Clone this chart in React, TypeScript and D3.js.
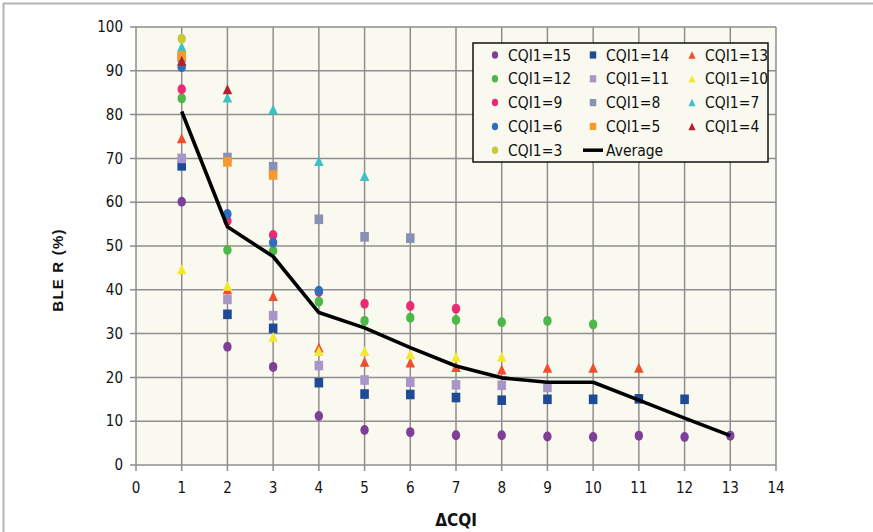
import { useEffect } from 'react'
import * as d3 from 'd3'

// ΔCQI positions, one point per series per ΔCQI (series CQI1=n run from 1 to n-2)
const deltaCqi = [1, 2, 3, 4, 5, 6, 7, 8, 9, 10, 11, 12, 13]

const cqi15 = [60.1, 27, 22.4, 11.2, 8, 7.5, 6.8, 6.8, 6.5, 6.4, 6.7, 6.4, 6.7]
const cqi14 = [68.3, 34.4, 31.2, 18.8, 16.2, 16.1, 15.4, 14.8, 15.0, 15.0, 15.1, 15.0]
const cqi13 = [74.6, 40.1, 38.6, 26.8, 23.6, 23.4, 22.4, 21.8, 22.2, 22.2, 22.2]
const cqi12 = [83.7, 49.1, 48.9, 37.3, 32.9, 33.6, 33.1, 32.6, 32.9, 32.1]
const cqi11 = [70, 37.8, 34.1, 22.7, 19.4, 18.9, 18.3, 18.2, 17.7]
const cqi10 = [44.7, 40.9, 29.3, 26, 26, 25.3, 24.7, 24.7]
const cqi9 = [85.8, 55.7, 52.5, 39.5, 36.8, 36.3, 35.7]
const cqi8 = [93, 70.2, 68.1, 56.1, 52.1, 51.8]
const cqi7 = [95.5, 83.9, 81.2, 69.4, 66]
const cqi6 = [90.8, 57.3, 50.8, 39.8]
const cqi5 = [93.4, 69.2, 66.2]
const cqi4 = [92.3, 85.8]
const cqi3 = [97.3]
const average = [80.7, 54.4, 47.6, 34.8, 31.3, 26.8, 22.6, 19.9, 18.9, 18.9, 14.8, 10.7, 6.7]

const xTicks = d3.range(0, 15)
const yTicks = d3.range(0, 101, 10)

type Shape = 'circle' | 'square' | 'triangle'

const series: { name: string; values: number[]; shape: Shape; color: string }[] = [
  { name: 'CQI1=15', values: cqi15, shape: 'circle', color: '#7f3f98' },
  { name: 'CQI1=14', values: cqi14, shape: 'square', color: '#1f4a96' },
  { name: 'CQI1=13', values: cqi13, shape: 'triangle', color: '#f04e2e' },
  { name: 'CQI1=12', values: cqi12, shape: 'circle', color: '#4cb848' },
  { name: 'CQI1=11', values: cqi11, shape: 'square', color: '#a896c8' },
  { name: 'CQI1=10', values: cqi10, shape: 'triangle', color: '#f2e82e' },
  { name: 'CQI1=9', values: cqi9, shape: 'circle', color: '#ec2a74' },
  { name: 'CQI1=8', values: cqi8, shape: 'square', color: '#8890b4' },
  { name: 'CQI1=7', values: cqi7, shape: 'triangle', color: '#3cc2c4' },
  { name: 'CQI1=6', values: cqi6, shape: 'circle', color: '#2f6ebe' },
  { name: 'CQI1=5', values: cqi5, shape: 'square', color: '#f7992c' },
  { name: 'CQI1=4', values: cqi4, shape: 'triangle', color: '#b41f2a' },
  { name: 'CQI1=3', values: cqi3, shape: 'circle', color: '#c8c83a' },
]

const W = 873
const H = 532
const m = { left: 136, right: 97, top: 27, bottom: 67 }
const tickFont = "'Liberation Sans Narrow', 'DejaVu Sans Condensed', sans-serif"

function Marker({ shape, x, y, color, s = 1 }: { shape: Shape; x: number; y: number; color: string; s?: number }) {
  if (shape === 'circle') return <ellipse cx={x} cy={y} rx={4.2 * s} ry={5 * s} fill={color} />
  if (shape === 'square') return <rect x={x - 4.3 * s} y={y - 4.8 * s} width={8.6 * s} height={9.6 * s} fill={color} />
  const h = 10 * s, w = 9.5 * s
  return <path d={`M${x},${y - h / 2}L${x + w / 2},${y + h / 2}L${x - w / 2},${y + h / 2}Z`} fill={color} />
}

export default function App() {
  useEffect(() => { document.body.style.margin = '0' }, [])

  const x = d3.scaleLinear().domain([0, 14]).range([m.left, W - m.right])
  const y = d3.scaleLinear().domain([0, 100]).range([H - m.bottom, m.top])
  const line = d3.line<number>().x((_, i) => x(deltaCqi[i])).y(d => y(d))

  const lx = 473, ly = 43, lw = 295, lh = 119
  const colX = [495, 593, 692]
  const rowY = (r: number) => 55 + r * 23.8

  return (
    <svg width={W} height={H} style={{ display: 'block', background: '#fff' }}>
      <line x1={3} x2={W} y1={3.5} y2={3.5} stroke="#b4b4b4" strokeWidth={2} />
      <line x1={3.5} x2={3.5} y1={3} y2={H} stroke="#b4b4b4" strokeWidth={2} />

      <rect x={x(0)} y={y(100)} width={x(14) - x(0)} height={y(0) - y(100)} fill="#faf9f0" />
      {yTicks.map(t => (
        <line key={'gy' + t} x1={x(0) - 6} x2={x(14)} y1={y(t)} y2={y(t)} stroke="#8e8e8e" strokeWidth={1.5} />
      ))}
      {xTicks.map(t => (
        <line key={'gx' + t} x1={x(t)} x2={x(t)} y1={y(100)} y2={y(0) + 6} stroke="#8e8e8e" strokeWidth={1.5} />
      ))}

      {yTicks.map(t => (
        <text key={'ty' + t} x={x(0) - 13} y={y(t)} dy="0.35em" textAnchor="end" fontFamily={tickFont} fontSize={15} fill="#111">{t}</text>
      ))}
      {xTicks.map(t => (
        <text key={'tx' + t} x={x(t)} y={y(0) + 28} textAnchor="middle" fontFamily={tickFont} fontSize={15} fill="#111">{t}</text>
      ))}

      <text transform={`translate(63,270) rotate(-90)`} textAnchor="middle" fontFamily="'Liberation Sans', Arial, sans-serif" fontWeight="bold" fontSize={15} letterSpacing={1.2} fill="#111">BLE R (%)</text>
      <text x={x(7)} y={526} textAnchor="middle" fontFamily={tickFont} fontWeight="bold" fontSize={17} fill="#111">ΔCQI</text>

      {series.map(s => (
        <g key={s.name}>
          {s.values.map((v, i) => (
            <Marker key={i} shape={s.shape} x={x(deltaCqi[i])} y={y(v)} color={s.color} />
          ))}
        </g>
      ))}

      <path d={line(average) ?? ''} fill="none" stroke="#000" strokeWidth={3.6} strokeLinejoin="round" />

      <rect x={lx} y={ly} width={lw} height={lh} fill="#faf9f0" stroke="#111" strokeWidth={1.5} />
      {series.map((s, i) => {
        const cx = colX[i % 3], cy = rowY(Math.floor(i / 3))
        return (
          <g key={'lg' + s.name}>
            <Marker shape={s.shape} x={cx} y={cy} color={s.color} s={0.75} />
            <text x={cx + 13} y={cy} dy="0.36em" fontFamily={tickFont} fontSize={15.5} fill="#111">{s.name}</text>
          </g>
        )
      })}
      <line x1={583} x2={603} y1={rowY(4)} y2={rowY(4)} stroke="#000" strokeWidth={3.5} />
      <text x={606} y={rowY(4)} dy="0.36em" fontFamily={tickFont} fontSize={15.5} fill="#111">Average</text>
    </svg>
  )
}
